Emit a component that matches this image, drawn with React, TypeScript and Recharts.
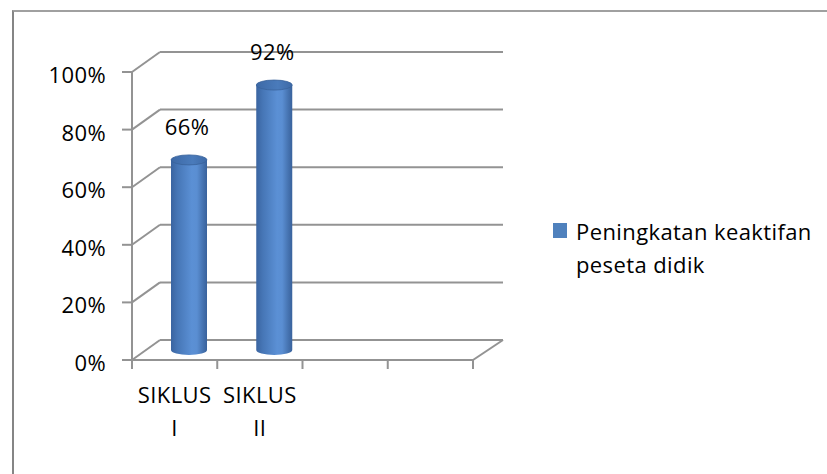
import { BarChart, Bar, XAxis, YAxis, CartesianGrid, Legend } from 'recharts'

const categories = ['SIKLUS I', 'SIKLUS II', '', '']
const keaktifan = [66, 92, null, null]
const yTicks = [0, 20, 40, 60, 80, 100]
const seriesName = 'Peningkatan keaktifan peseta didik'

const chartData = categories.map((name, i) => ({ name, value: keaktifan[i] }))

const FONT = '"Open Sans", sans-serif'
const FONT_SIZE = 22
const SPACING = 0.4
const LINE = '#939393'
const DEPTH_X = 28
const DEPTH_Y = 20

export default function App() {
  return (
    <div style={{ position: 'absolute', left: 0, top: 0, width: 827, height: 474, overflow: 'hidden', background: '#fff' }}>
      <div
        style={{
          position: 'absolute',
          left: 12,
          top: 10,
          width: 900,
          height: 600,
          borderTop: '2px solid #a0a0a0',
          borderLeft: '2px solid #858585',
        }}
      />
      <BarChart
        width={827}
        height={474}
        data={chartData}
        margin={{ top: 72, right: 354, bottom: 54, left: 0 }}
        style={{ position: 'absolute', left: 0, top: 0 }}
      >
        <defs>
          <linearGradient id="cylBody" x1="0" y1="0" x2="1" y2="0">
            <stop offset="0%" stopColor="#3a64a0" />
            <stop offset="18%" stopColor="#4676b6" />
            <stop offset="58%" stopColor="#5b90d5" />
            <stop offset="72%" stopColor="#5a8ed2" />
            <stop offset="90%" stopColor="#4471ae" />
            <stop offset="100%" stopColor="#39629c" />
          </linearGradient>
          <linearGradient id="cylTop" x1="0" y1="0" x2="1" y2="0">
            <stop offset="0%" stopColor="#3d69a6" />
            <stop offset="60%" stopColor="#4a7bbb" />
            <stop offset="100%" stopColor="#3e6aa7" />
          </linearGradient>
        </defs>
        <CartesianGrid vertical={false} horizontal={renderGridLine as any} />
        <XAxis
          interval={0}
          axisLine={{ stroke: LINE, strokeWidth: 2 }}
          tickLine={false}
          tickSize={0}
          tickMargin={0}
          height={60}
          tick={renderXTick as any}
        />
        <YAxis
          domain={[0, 100]}
          ticks={yTicks}
          width={132}
          axisLine={{ stroke: LINE, strokeWidth: 2 }}
          tickLine={{ stroke: LINE, strokeWidth: 2 }}
          tickSize={10}
          tickMargin={16}
          tick={renderYTick as any}
        />
        <Legend
          layout="horizontal"
          align="center"
          verticalAlign="middle"
          wrapperStyle={{ left: 553, top: 215, width: 270 }}
          content={() => (
            <div style={{ position: 'relative', paddingLeft: 23, fontFamily: FONT, fontSize: FONT_SIZE, letterSpacing: SPACING, lineHeight: '33px', color: '#000', width: 250 }}>
              <span style={{ position: 'absolute', left: 0, top: 8, width: 14, height: 15, background: '#4f81bd' }} />
              {seriesName}
            </div>
          )}
        />
        <Bar
          dataKey="value"
          name={seriesName}
          barSize={36}
          fill="#4f81bd"
          isAnimationActive={false}
          shape={renderCylinder as any}
          label={renderValueLabel as any}
        />
      </BarChart>
    </div>
  )
}

function renderGridLine(props: any) {
  const { x1, y1, x2, y, height, index } = props
  const isFloor = Math.abs(y1 - (y + height)) < 0.5
  return (
    <g key={`grid-${index}-${y1}`} stroke={LINE} strokeWidth={2}>
      <line x1={x1} y1={y1} x2={x1 + DEPTH_X} y2={y1 - DEPTH_Y} />
      <line x1={x1 + DEPTH_X} y1={y1 - DEPTH_Y} x2={x2 + DEPTH_X + 2} y2={y1 - DEPTH_Y} />
      {isFloor && <line x1={x2} y1={y1} x2={x2 + DEPTH_X + 2} y2={y1 - DEPTH_Y} />}
    </g>
  )
}

function renderYTick(props: any) {
  const { x, y, payload } = props
  return (
    <text x={x} y={y + 11} textAnchor="end" fontFamily={FONT} fontSize={FONT_SIZE} letterSpacing={SPACING} fill="#000">
      {`${payload.value}%`}
    </text>
  )
}

function renderXTick(props: any) {
  const { x, y, index, width, visibleTicksCount } = props
  const band = width / (visibleTicksCount || categories.length)
  const lines = (categories[index] || '').split(' ').filter(Boolean)
  return (
    <g>
      <line x1={x - band / 2} y1={y} x2={x - band / 2} y2={y + 9} stroke={LINE} strokeWidth={2} />
      {index === categories.length - 1 && (
        <line x1={x + band / 2} y1={y} x2={x + band / 2} y2={y + 9} stroke={LINE} strokeWidth={2} />
      )}
      {lines.map((t, i) => (
        <text key={i} x={x} y={y + 43 + i * 33} textAnchor="middle" fontFamily={FONT} fontSize={FONT_SIZE} letterSpacing={SPACING} fill="#000">
          {t}
        </text>
      ))}
    </g>
  )
}

function renderCylinder(props: any) {
  const { x, y, width, height } = props
  if (x == null || y == null || !height || height <= 0) return <g />
  const rx = width / 2
  const ry = 5
  const cx = x + rx + DEPTH_X / 2
  const top = y - DEPTH_Y / 2
  const bottom = y + height - DEPTH_Y / 2
  const l = cx - rx
  const r = cx + rx
  return (
    <g>
      <path d={`M${l},${top} L${l},${bottom} A${rx},${ry} 0 0 0 ${r},${bottom} L${r},${top} Z`} fill="url(#cylBody)" />
      <ellipse cx={cx} cy={top} rx={rx} ry={ry} fill="url(#cylTop)" stroke="#39629b" strokeWidth={0.8} />
    </g>
  )
}

function renderValueLabel(props: any) {
  const { x, y, width, value, index } = props
  if (value == null || x == null || y == null) return <g />
  const cx = x + width / 2 + DEPTH_X / 2 - 2
  const top = y - DEPTH_Y / 2
  return (
    <text key={`lbl-${index}`} x={cx} y={top - 25} textAnchor="middle" fontFamily={FONT} fontSize={FONT_SIZE} letterSpacing={SPACING} fill="#000">
      {`${value}%`}
    </text>
  )
}
